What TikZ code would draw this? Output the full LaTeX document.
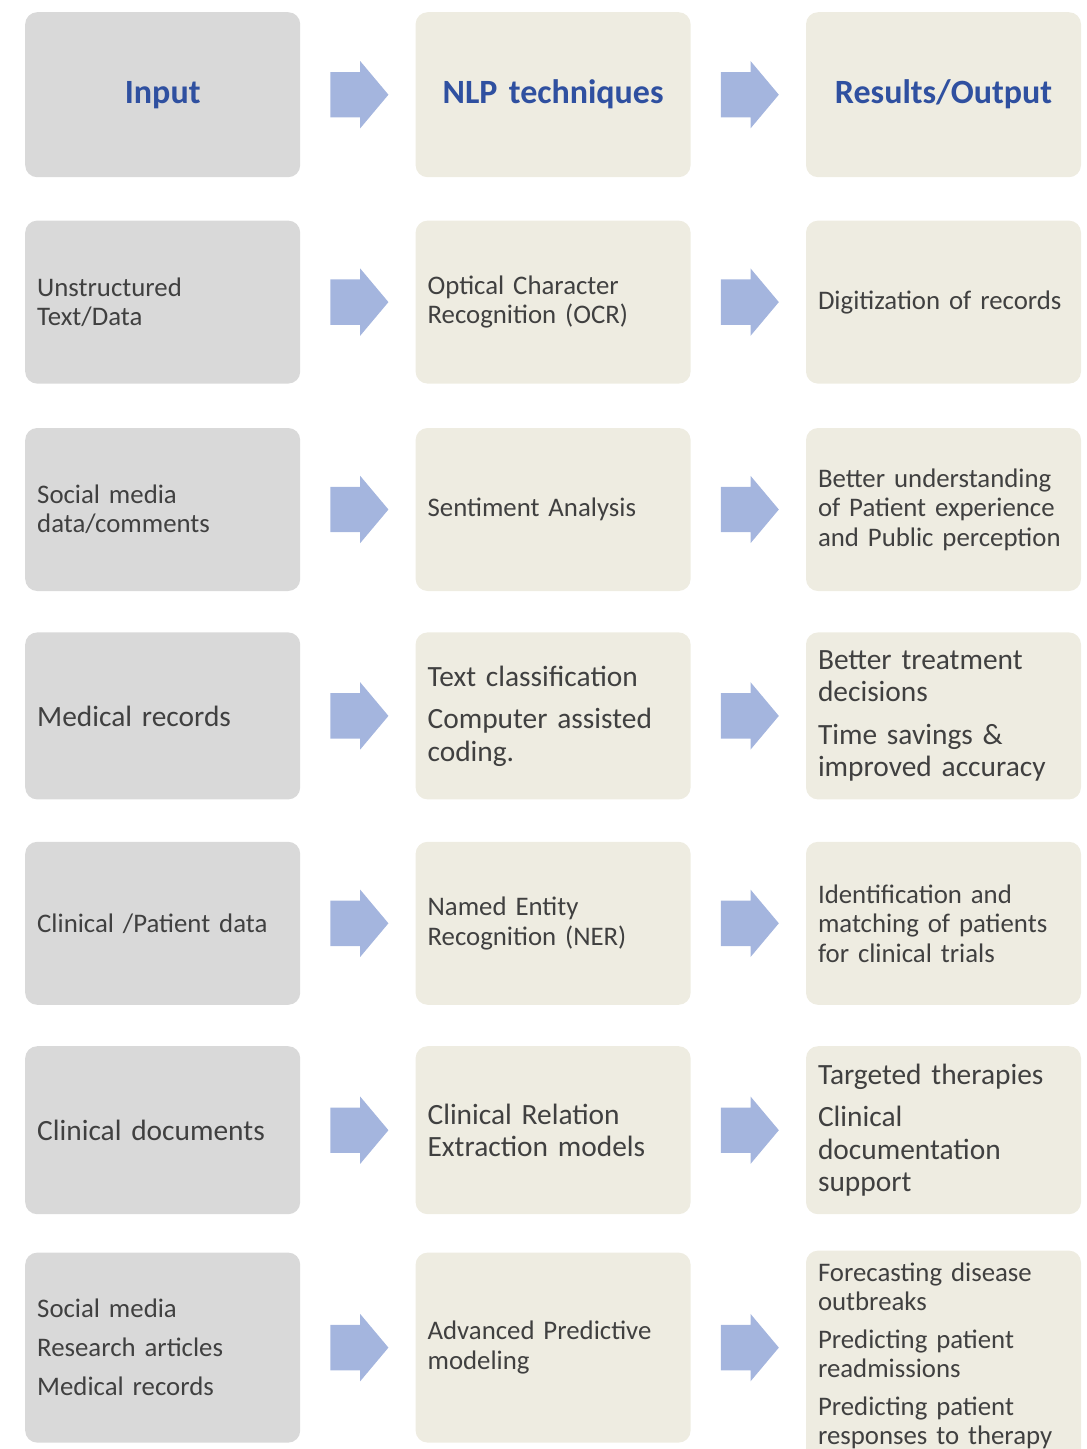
\documentclass[tikz,border=0pt]{standalone}
\usepackage{fontspec}
\setmainfont{Carlito}
\usepackage{tikz}
\usetikzlibrary{positioning,shapes.arrows,calc}
\definecolor{boxgray}{RGB}{217,217,217}
\definecolor{boxbeige}{RGB}{238,236,225}
\definecolor{headblue}{RGB}{47,80,160}
\definecolor{flowblue}{RGB}{164,181,222}
\definecolor{txtgray}{RGB}{64,64,64}
\tikzset{
	box/.style={rectangle,rounded corners=12pt,minimum width=275pt,text width=251pt,inner sep=12pt,align=left,text=txtgray,font=\fontsize{26.8pt}{29.5pt}\selectfont},
	inbox/.style={box,fill=boxgray,minimum height=#1},
	nlpbox/.style={box,fill=boxbeige,minimum height=#1},
	outbox/.style={box,fill=boxbeige,minimum height=#1},
	big/.style={font=\fontsize{29.4pt}{32.5pt}\selectfont},
	head/.style={align=center,text=headblue,font=\fontsize{34pt}{40pt}\selectfont\bfseries},
	flow/.style={single arrow,fill=flowblue,draw=none,inner xsep=0pt,inner ysep=22.5pt,minimum height=58pt,single arrow head extend=11pt,single arrow tip angle=100,xshift=-8pt}
}

\begin{document}
\begin{tikzpicture}
\useasboundingbox (0,0) rectangle (1087pt,-1449pt);
% header row
\node[inbox=165pt,head,anchor=north west] (in1) at (25pt,-12pt) {Input};
\node[nlpbox=165pt,head] (nlp1) [right=115pt of in1] {NLP techniques};
\node[outbox=165pt,head] (out1) [right=115pt of nlp1] {Results/Output};
% rows
\node[inbox=163pt] (in2) [below=43pt of in1] {Unstructured\\Text/Data};
\node[nlpbox=163pt] (nlp2) [right=115pt of in2] {Optical Character\\Recognition (OCR)};
\node[outbox=163pt] (out2) [right=115pt of nlp2] {Digitization of records};
\node[inbox=163pt] (in3) [below=44pt of in2] {Social media\\data/comments};
\node[nlpbox=163pt] (nlp3) [right=115pt of in3] {Sentiment Analysis};
\node[outbox=163pt] (out3) [right=115pt of nlp3] {Better understanding\\of Patient experience\\and Public perception};
\node[inbox=167pt,big] (in4) [below=41pt of in3] {Medical records};
\node[nlpbox=167pt,big] (nlp4) [right=115pt of in4] {Text classification\\[10pt]Computer assisted\\coding.};
\node[outbox=167pt,big] (out4) [right=115pt of nlp4] {Better treatment\\decisions\\[10pt]Time savings \&\\improved accuracy};
\node[inbox=163pt] (in5) [below=42pt of in4] {Clinical /Patient data};
\node[nlpbox=163pt] (nlp5) [right=115pt of in5] {Named Entity\\Recognition (NER)};
\node[outbox=163pt] (out5) [right=115pt of nlp5] {Identification and\\matching of patients\\for clinical trials};
\node[inbox=168pt,big] (in6) [below=41pt of in5] {Clinical documents};
\node[nlpbox=168pt,big] (nlp6) [right=115pt of in6] {Clinical Relation\\Extraction models};
\node[outbox=168pt,big] (out6) [right=115pt of nlp6] {Targeted therapies\\[10pt]Clinical\\documentation\\support};
\node[inbox=190pt] (in7) [below=38pt of in6] {Social media\\[9.5pt]Research articles\\[9.5pt]Medical records};
\node[nlpbox=190pt] (nlp7) [below=38pt of nlp6] {Advanced Predictive\\modeling};
\node[outbox=190pt] (out7) [below=36pt of out6] {Forecasting disease\\outbreaks\\[8pt]Predicting patient\\readmissions\\[8pt]Predicting patient\\responses to therapy};
% arrows
\node[flow] (a1) at ($(in1.east)!0.5!(nlp1.west)$) {};
\node[flow] (b1) at ($(nlp1.east)!0.5!(out1.west)$) {};
\node[flow] (a2) at ($(in2.east)!0.5!(nlp2.west)$) {};
\node[flow] (b2) at ($(nlp2.east)!0.5!(out2.west)$) {};
\node[flow] (a3) at ($(in3.east)!0.5!(nlp3.west)$) {};
\node[flow] (b3) at ($(nlp3.east)!0.5!(out3.west)$) {};
\node[flow] (a4) at ($(in4.east)!0.5!(nlp4.west)$) {};
\node[flow] (b4) at ($(nlp4.east)!0.5!(out4.west)$) {};
\node[flow] (a5) at ($(in5.east)!0.5!(nlp5.west)$) {};
\node[flow] (b5) at ($(nlp5.east)!0.5!(out5.west)$) {};
\node[flow] (a6) at ($(in6.east)!0.5!(nlp6.west)$) {};
\node[flow] (b6) at ($(nlp6.east)!0.5!(out6.west)$) {};
\node[flow] (a7) at ($(in7.east)!0.5!(nlp7.west)$) {};
\node[flow] (b7) at ($(nlp7.east)!0.5!(out7.west |- nlp7.east)$) {};
\end{tikzpicture}
\end{document}
